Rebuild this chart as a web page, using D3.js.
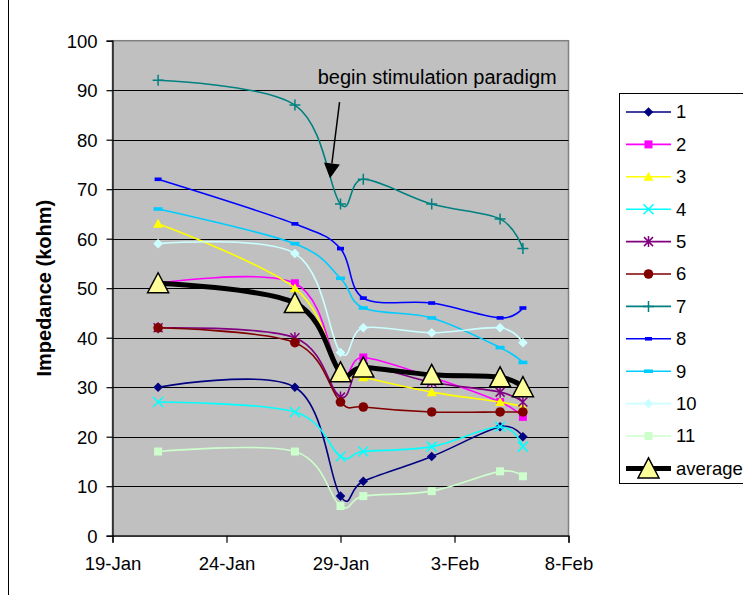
<!DOCTYPE html>
<html>
<head>
<meta charset="utf-8">
<script src="https://cdn.jsdelivr.net/npm/d3@7/dist/d3.min.js"></script>
<style>
  body { margin: 0; background: #fff; }
  svg { display: block; font-family: "Liberation Sans", Arial, sans-serif; }
</style>
</head>
<body>
<svg id="chart" width="743" height="595"></svg>
<script>
// data
const dates = ['2007-01-21', '2007-01-27', '2007-01-29', '2007-01-30', '2007-02-02', '2007-02-05', '2007-02-06'];
const s1 = [30, 30, 8, 11, 16, 22, 20];
const s2 = [51, 51, 33, 36, 32, 27, 24];
const s3 = [63, 50, 33, 32, 29, 27, 26];
const s4 = [27, 25, 16, 17, 18, 22, 18];
const s5 = [42, 40, 28, 34, 31, 29, 27];
const s6 = [42, 39, 27, 26, 25, 25, 25];
const s7 = [92, 87, 67, 72, 67, 64, 58];
const s8 = [72, 63, 58, 48, 47, 44, 46];
const s9 = [66, 59, 52, 46, 44, 38, 35];
const s10 = [59, 57, 37, 42, 41, 42, 39];
const s11 = [17, 17, 6, 8, 9, 13, 12];
const average = [51, 47, 33, 34, 32.5, 32, 30];
const seriesNames = ['1', '2', '3', '4', '5', '6', '7', '8', '9', '10', '11', 'average'];
const xTickDates = ['2007-01-19', '2007-01-24', '2007-01-29', '2007-02-03', '2007-02-08'];
const yTicks = [0, 10, 20, 30, 40, 50, 60, 70, 80, 90, 100];

const parse = d3.timeParse('%Y-%m-%d');
const fmt = d3.timeFormat('%-d-%b');

const series = [
  { values: s1, color: '#000080', marker: 'diamond' },
  { values: s2, color: '#ff00ff', marker: 'square' },
  { values: s3, color: '#ffff00', marker: 'triangle' },
  { values: s4, color: '#00ffff', marker: 'x' },
  { values: s5, color: '#800080', marker: 'star' },
  { values: s6, color: '#800000', marker: 'circle' },
  { values: s7, color: '#008080', marker: 'plus' },
  { values: s8, color: '#0000ff', marker: 'dash' },
  { values: s9, color: '#00ccff', marker: 'dash2' },
  { values: s10, color: '#ccffff', marker: 'diamond' },
  { values: s11, color: '#ccffcc', marker: 'square' },
  { values: average, color: '#000000', marker: 'bigtri', width: 5 }
].map((s, i) => ({ ...s, name: seriesNames[i] }));

const svg = d3.select('#chart');
const plotLeft = 112.5, plotRight = 568.5, plotTop = 40.7, plotBottom = 535.7;

const x = d3.scaleTime()
  .domain([parse(xTickDates[0]), parse(xTickDates[xTickDates.length - 1])])
  .range([plotLeft, plotRight]);
const y = d3.scaleLinear().domain([0, 100]).range([plotBottom, plotTop]);

// chart area border (only the left edge falls inside the picture)
svg.append('line')
  .attr('x1', 8.5).attr('x2', 8.5).attr('y1', 0).attr('y2', 595)
  .attr('stroke', '#000');

// plot area
svg.append('rect')
  .attr('x', plotLeft).attr('y', plotTop)
  .attr('width', plotRight - plotLeft).attr('height', plotBottom - plotTop)
  .attr('fill', '#c0c0c0').attr('stroke', '#808080').attr('stroke-width', 1.5);

svg.append('g')
  .selectAll('line')
  .data(yTicks.filter((t) => t > 0 && t < 100))
  .join('line')
  .attr('x1', plotLeft).attr('x2', plotRight)
  .attr('y1', (d) => Math.round(y(d)) + 0.5).attr('y2', (d) => Math.round(y(d)) + 0.5)
  .attr('stroke', '#000').attr('stroke-width', 1);

// axes
const yAxis = svg.append('g')
  .attr('transform', `translate(${plotLeft},0)`)
  .call(d3.axisLeft(y).tickValues(yTicks).tickSize(6).tickPadding(9));
const xAxis = svg.append('g')
  .attr('transform', `translate(0,${plotBottom})`)
  .call(d3.axisBottom(x).tickValues(xTickDates.map(parse)).tickFormat(fmt).tickSize(7).tickPadding(14));

[yAxis, xAxis].forEach((g) => {
  g.selectAll('path, line').attr('stroke', '#000').attr('stroke-width', 1.2);
  g.selectAll('text').attr('fill', '#000').style('font-size', '18.5px');
});
yAxis.selectAll('text').attr('dy', '0.35em');

svg.append('text')
  .attr('transform', `translate(44,${(plotTop + plotBottom) / 2}) rotate(-90)`)
  .attr('text-anchor', 'middle')
  .attr('dy', '0.35em')
  .style('font-size', '20px')
  .style('font-weight', 'bold')
  .text('Impedance (kohm)');

function markerPath(type) {
  switch (type) {
    case 'diamond': return 'M0,-4.8L4.8,0L0,4.8L-4.8,0Z';
    case 'square': return 'M-4,-4H4V4H-4Z';
    case 'triangle': return 'M0,-5L5,4L-5,4Z';
    case 'x': return 'M-5,-5L5,5M-5,5L5,-5';
    case 'star': return 'M-4.5,-4.5L4.5,4.5M-4.5,4.5L4.5,-4.5M0,-5.5V5.5';
    case 'plus': return 'M-5.5,0H5.5M0,-5.5V5.5';
    case 'dash': return 'M-3.5,-1.8H3.5V1.8H-3.5Z';
    case 'dash2': return 'M-4.5,-1.8H4.5V1.8H-4.5Z';
    case 'bigtri': return 'M0,-10.5L10.5,9.5L-10.5,9.5Z';
  }
}

function drawMarker(sel, s) {
  const open = ['x', 'star', 'plus'].includes(s.marker);
  if (s.marker === 'circle') {
    return sel.append('circle').attr('r', 4.8).attr('fill', s.color);
  }
  const p = sel.append('path').attr('d', markerPath(s.marker));
  if (open) p.attr('fill', 'none').attr('stroke', s.color).attr('stroke-width', 1.5);
  else if (s.marker === 'bigtri') p.attr('fill', '#ffff99').attr('stroke', '#000').attr('stroke-width', 1.5);
  else p.attr('fill', s.color);
  return p;
}

const line = d3.line()
  .x((d) => x(d.date))
  .y((d) => y(d.value))
  .curve(d3.curveCardinal.tension(0));

const plot = svg.append('g');
series.forEach((s) => {
  const pts = s.values.map((v, i) => ({ date: parse(dates[i]), value: v }));
  plot.append('path')
    .datum(pts)
    .attr('fill', 'none')
    .attr('stroke', s.color)
    .attr('stroke-width', s.width || 1.6)
    .attr('stroke-linejoin', 'round')
    .attr('d', line);
  pts.forEach((d) => {
    const g = plot.append('g').attr('transform', `translate(${x(d.date)},${y(d.value)})`);
    drawMarker(g, s);
  });
});

// annotation
const ann = svg.append('g');
ann.append('text')
  .attr('x', x(parse('2007-01-28')))
  .attr('y', y(91.2))
  .style('font-size', '20px')
  .text('begin stimulation paradigm');
const a0 = [x(d3.timeHour.offset(parse('2007-01-28'), 23)), y(87.6)];
const a1 = [x(d3.timeHour.offset(parse('2007-01-28'), 13)), y(72.2)];
const ang = Math.atan2(a1[1] - a0[1], a1[0] - a0[0]);
const headLen = 15, headW = 8;
const base = [a1[0] - headLen * Math.cos(ang), a1[1] - headLen * Math.sin(ang)];
ann.append('line')
  .attr('x1', a0[0]).attr('y1', a0[1]).attr('x2', base[0]).attr('y2', base[1])
  .attr('stroke', '#000').attr('stroke-width', 1.5);
ann.append('path')
  .attr('d', `M${a1[0]},${a1[1]}L${base[0] + headW * Math.sin(ang)},${base[1] - headW * Math.cos(ang)}L${base[0] - headW * Math.sin(ang)},${base[1] + headW * Math.cos(ang)}Z`)
  .attr('fill', '#000');

// legend
const legend = svg.append('g');
legend.append('rect')
  .attr('x', 619.5).attr('y', 93.5).attr('width', 140).attr('height', 390)
  .attr('fill', '#fff').attr('stroke', '#000');
series.forEach((s, i) => {
  const g = legend.append('g').attr('transform', `translate(0,${112 + i * 32.4})`);
  g.append('line')
    .attr('x1', 626).attr('x2', 671)
    .attr('stroke', s.color).attr('stroke-width', s.width || 1.6);
  drawMarker(g.append('g').attr('transform', 'translate(648.5,0)'), s);
  g.append('text')
    .attr('x', 676).attr('dy', '0.35em')
    .style('font-size', '18.5px')
    .text(s.name);
});
</script>
</body>
</html>
